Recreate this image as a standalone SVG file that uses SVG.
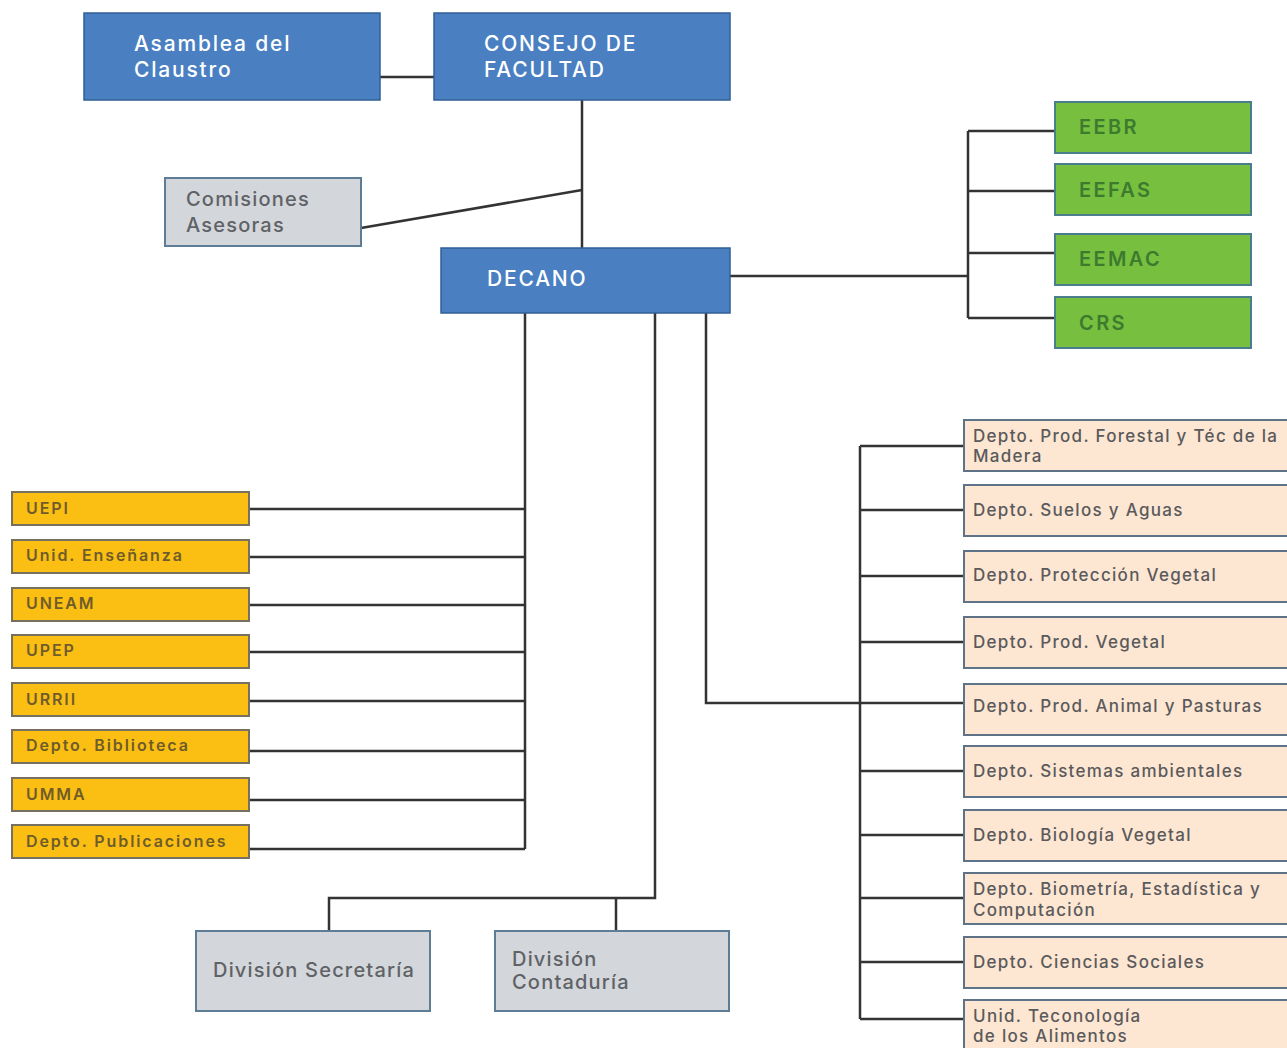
<svg xmlns="http://www.w3.org/2000/svg" width="1287" height="1048" viewBox="0 0 1287 1048">
<style>
text{font-family:Inter,"Noto Sans","Liberation Sans",sans-serif}
.blue rect{fill:#4a7fc2;stroke:#2f5f95;stroke-width:1.5}
.blue text{fill:#fff;font-size:21px;font-weight:500;letter-spacing:1.8px}
.gray rect{fill:#d3d6da;stroke:#5d7d97;stroke-width:2}
.gray text{fill:#5f6266;font-size:20px;font-weight:500;letter-spacing:1.2px}
.green rect{fill:#77bf3f;stroke:#4a7e8f;stroke-width:2}
.green text{fill:#3e7a2e;font-size:20px;font-weight:600;letter-spacing:2.4px}
.yel rect{fill:#fbbf14;stroke:#75705f;stroke-width:2}
.yel text{fill:#6f5c2a;font-size:16px;font-weight:600;letter-spacing:1.9px}
.peach rect{fill:#fde6d2;stroke:#5f7388;stroke-width:2}
.peach text{fill:#5a5a5c;font-size:17px;font-weight:500;letter-spacing:1.3px}
.conn{fill:none;stroke:#333;stroke-width:2.5}
</style>
<rect width="1287" height="1048" fill="#fff"/>
<g id="connectors" class="conn">
<path d="M380 77H434"/>
<path d="M582 100V248"/>
<path d="M361 228L582 190"/>
<path d="M730 276H968M968 131V318M968 131H1055M968 191H1055M968 253H1055M968 318H1055"/>
<path d="M525 313V849M249 509H525M249 557H525M249 605H525M249 652H525M249 701H525M249 751H525M249 800H525M249 849H525"/>
<path d="M655 313V898H329V931M616 898V931"/>
<path d="M706 313V703H964"/>
<path d="M860 446V1019M860 446H964M860 510H964M860 576H964M860 642H964M860 771H964M860 835H964M860 898H964M860 962H964M860 1019H964"/>
</g>
<g id="asamblea" class="blue"><rect x="84" y="13" width="296" height="87"/><text x="134" y="51">Asamblea del</text><text x="134" y="77">Claustro</text></g>
<g id="consejo" class="blue"><rect x="434" y="13" width="296" height="87"/><text x="484" y="51">CONSEJO DE</text><text x="484" y="77">FACULTAD</text></g>
<g id="comisiones" class="gray"><rect x="165" y="178" width="196" height="68"/><text x="186" y="206">Comisiones</text><text x="186" y="232">Asesoras</text></g>
<g id="decano" class="blue"><rect x="441" y="248" width="289" height="65"/><text x="487" y="286">DECANO</text></g>
<g id="eebr" class="green"><rect x="1055" y="102" width="196" height="51"/><text x="1079" y="134">EEBR</text></g>
<g id="eefas" class="green"><rect x="1055" y="164" width="196" height="51"/><text x="1079" y="197">EEFAS</text></g>
<g id="eemac" class="green"><rect x="1055" y="234" width="196" height="51"/><text x="1079" y="266">EEMAC</text></g>
<g id="crs" class="green"><rect x="1055" y="297" width="196" height="51"/><text x="1079" y="330">CRS</text></g>
<g id="uepi" class="yel"><rect x="12" y="492" width="237" height="33"/><text x="26" y="514">UEPI</text></g>
<g id="ensenanza" class="yel"><rect x="12" y="540" width="237" height="33"/><text x="26" y="561">Unid. Enseñanza</text></g>
<g id="uneam" class="yel"><rect x="12" y="588" width="237" height="33"/><text x="26" y="609">UNEAM</text></g>
<g id="upep" class="yel"><rect x="12" y="635" width="237" height="33"/><text x="26" y="656">UPEP</text></g>
<g id="urrii" class="yel"><rect x="12" y="683" width="237" height="33"/><text x="26" y="705">URRII</text></g>
<g id="biblioteca" class="yel"><rect x="12" y="730" width="237" height="33"/><text x="26" y="751">Depto. Biblioteca</text></g>
<g id="umma" class="yel"><rect x="12" y="778" width="237" height="33"/><text x="26" y="800">UMMA</text></g>
<g id="publicaciones" class="yel"><rect x="12" y="825" width="237" height="33"/><text x="26" y="847">Depto. Publicaciones</text></g>
<g id="secretaria" class="gray"><rect x="196" y="931" width="234" height="80"/><text x="213" y="977" font-size="19">División Secretaría</text></g>
<g id="contaduria" class="gray"><rect x="495" y="931" width="234" height="80"/><text x="512" y="966" font-size="19">División</text><text x="512" y="989" font-size="19">Contaduría</text></g>
<g id="forestal" class="peach"><rect x="964" y="420" width="330" height="51"/><text x="973" y="442">Depto. Prod. Forestal y Téc de la</text><text x="973" y="462">Madera</text></g>
<g id="suelos" class="peach"><rect x="964" y="485" width="330" height="51"/><text x="973" y="516">Depto. Suelos y Aguas</text></g>
<g id="proteccion" class="peach"><rect x="964" y="551" width="330" height="51"/><text x="973" y="581">Depto. Protección Vegetal</text></g>
<g id="prodvegetal" class="peach"><rect x="964" y="617" width="330" height="51"/><text x="973" y="648">Depto. Prod. Vegetal</text></g>
<g id="animal" class="peach"><rect x="964" y="684" width="330" height="51"/><text x="973" y="712">Depto. Prod. Animal y Pasturas</text></g>
<g id="sistemas" class="peach"><rect x="964" y="746" width="330" height="51"/><text x="973" y="777">Depto. Sistemas ambientales</text></g>
<g id="biologia" class="peach"><rect x="964" y="810" width="330" height="51"/><text x="973" y="841">Depto. Biología Vegetal</text></g>
<g id="biometria" class="peach"><rect x="964" y="873" width="330" height="51"/><text x="973" y="895">Depto. Biometría, Estadística y</text><text x="973" y="916">Computación</text></g>
<g id="sociales" class="peach"><rect x="964" y="937" width="330" height="51"/><text x="973" y="968">Depto. Ciencias Sociales</text></g>
<g id="alimentos" class="peach"><rect x="964" y="1000" width="330" height="60"/><text x="973" y="1022">Unid. Teconología</text><text x="973" y="1042">de los Alimentos</text></g>
</svg>
